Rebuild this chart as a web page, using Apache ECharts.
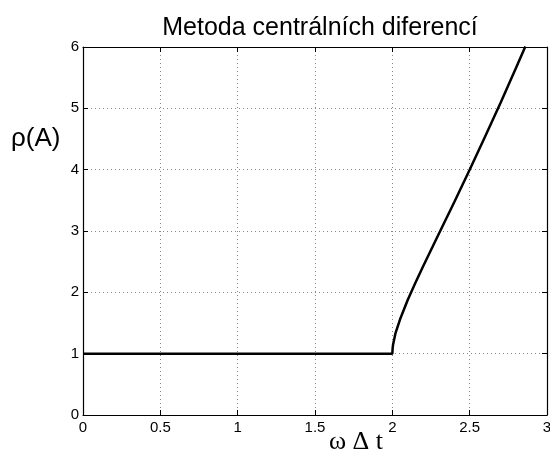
<!DOCTYPE html>
<html><head><meta charset="utf-8">
<script src="https://cdn.jsdelivr.net/npm/echarts@6/dist/echarts.min.js"></script>
<style>html,body{margin:0;padding:0;background:#fff}#c{width:550px;height:458px}</style>
</head><body><div id="c"></div>
<script>
const titleText = "Metoda centrálních diferencí";
const xLabel = "ω Δ t";
const yLabel = "ρ(A)";
const xTicks = [0, 0.5, 1, 1.5, 2, 2.5, 3];
const yTicks = [0, 1, 2, 3, 4, 5, 6];
// ωΔt and ρ(A)
const omegaDt = [0, 0.5, 1, 1.5, 2.0, 2.002, 2.005, 2.01, 2.02, 2.05, 2.1, 2.15, 2.2, 2.3, 2.4, 2.5, 2.6, 2.7, 2.8, 2.86];
const rho     = [1, 1,   1, 1,   1.0, 1.09,  1.15,  1.21, 1.33, 1.56, 1.88, 2.16, 2.43, 2.95, 3.47, 4.0, 4.54, 5.09, 5.66, 6.01];

const font = "'Liberation Sans', Arial, Helvetica, sans-serif";
const chart = echarts.init(document.getElementById('c'), null, {renderer: 'canvas'});
const data = omegaDt.map((x, i) => [x, rho[i]]);
const axisBase = {
  axisLine: {show: true, onZero: false, lineStyle: {color: '#000', width: 1.2}},
  axisTick: {show: true, inside: true, length: 5, lineStyle: {color: '#000'}}
};
chart.setOption({
  animation: false,
  backgroundColor: '#fff',
  title: {text: titleText, left: 315, top: 11, textAlign: 'center',
    textStyle: {fontFamily: font, fontSize: 25, fontWeight: 'normal', color: '#000'}},
  grid: {left: 83, right: 3, top: 47, bottom: 43, containLabel: false, outerBoundsMode: 'none'},
  xAxis: [
    Object.assign({}, axisBase, {type: 'value', min: xTicks[0], max: xTicks[xTicks.length-1], interval: 0.5,
      position: 'bottom',
      name: xLabel, nameLocation: 'middle', nameGap: 14, nameMoveOverlap: false,
      nameTextStyle: {fontFamily: "'Liberation Serif', 'Times New Roman', serif", fontSize: 26, color: '#000', padding: [0, 0, 0, 82]},
      axisLabel: {fontFamily: font, fontSize: 15, color: '#000', margin: 5},
      splitLine: {show: true, lineStyle: {color: '#888', type: [1, 3], width: 1}}}),
    Object.assign({}, axisBase, {type: 'value', min: 0, max: 3, interval: 0.5, position: 'top',
      axisLabel: {show: false}, splitLine: {show: false}})
  ],
  yAxis: [
    Object.assign({}, axisBase, {type: 'value', min: yTicks[0], max: yTicks[yTicks.length-1], interval: 1,
      position: 'left',
      axisLabel: {fontFamily: font, fontSize: 15, color: '#000', margin: 4},
      splitLine: {show: true, lineStyle: {color: '#888', type: [1, 3], width: 1}}}),
    Object.assign({}, axisBase, {type: 'value', min: 0, max: 6, interval: 1, position: 'right',
      axisLabel: {show: false}, splitLine: {show: false}})
  ],
  graphic: [{type: 'text', left: 11, top: 126,
    style: {text: yLabel, fontFamily: font, fontSize: 26, fill: '#000'}}],
  series: [{type: 'line', data: data, showSymbol: false, symbol: 'none', clip: true,
    lineStyle: {color: '#000', width: 2.5}, xAxisIndex: 0, yAxisIndex: 0}]
});
</script></body></html>
